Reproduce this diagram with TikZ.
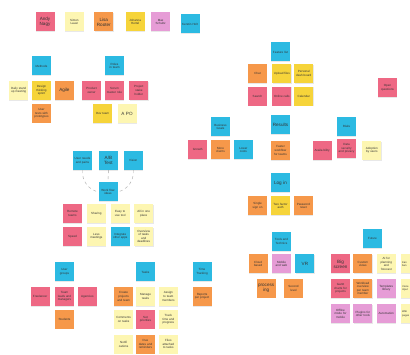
\documentclass[tikz,border=0pt]{standalone}
\usepackage{fontspec}
\setmainfont{Liberation Sans}
\definecolor{stpink}{RGB}{238,104,132}
\definecolor{stlight}{RGB}{253,246,178}
\definecolor{storange}{RGB}{246,152,74}
\definecolor{styellow}{RGB}{246,212,58}
\definecolor{stviolet}{RGB}{230,156,214}
\definecolor{stcyan}{RGB}{44,186,226}
\usetikzlibrary{positioning, shadows}

\begin{document}
\begin{tikzpicture}[x=1pt, y=-1pt,
  note/.style={minimum size=19pt, inner sep=0.5pt, text width=16pt, align=center,
    font=\fontsize{3}{3.6}\selectfont, text=black!80,
    drop shadow={shadow xshift=0.3pt, shadow yshift=-0.7pt, opacity=.18}},
  big/.style={font=\fontsize{4.6}{5.2}\selectfont},
  edge/.style={align=left, font=\fontsize{2.6}{3.2}\selectfont},
  pnk/.style={note, fill=stpink},
  lyl/.style={note, fill=stlight},
  org/.style={note, fill=storange},
  yel/.style={note, fill=styellow},
  vio/.style={note, fill=stviolet},
  cyn/.style={note, fill=stcyan},
  link/.style={dashed, gray!70, thin},
  node distance=3.5pt,
]
  \useasboundingbox[fill=white] (0,0) rectangle (410,355);

  % team row
  \node[pnk, big] (andy) at (45,22) {Andy Nagy};
  \node[lyl, right=10pt of andy] (t2) {Simon Lauer};
  \node[org, big, right=10pt of t2] (lisa) {Lisa Rooter};
  \node[yel, right=12pt of lisa] (t4) {Johanna Hertel};
  \node[vio, right=6pt of t4] (t5) {Max Schultz};
  \node[cyn, right=10pt of t5, yshift=-2pt] (t6) {Kerstin Holt};

  % methods
  \node[cyn] (meth) at (41.5,66) {Methods};
  \node[yel, below=5pt of meth] (meth2) {Design thinking sprint};
  \node[lyl, left=of meth2] (meth1) {Daily stand up meeting};
  \node[org, big, right=of meth2] (agile) {Agile};
  \node[org, below=of meth2] (meth4) {User tests with prototypes};

  % roles
  \node[cyn] (role) at (114.5,66) {Roles in team};
  \node[pnk, below=5pt of role] (role2) {Scrum master role};
  \node[pnk, left=of role2] (role1) {Product owner};
  \node[pnk, right=5pt of role2] (role3) {Project stake holder};
  \node[yel, below=4pt of role1, xshift=11pt] (role4) {Dev team};
  \node[lyl, big, right=5pt of role4] (po) {A PO};

  % features
  \node[cyn] (feat) at (280.5,52) {Feature list};
  \node[org, below=2pt of feat, xshift=-23pt] (f1) {Chat};
  \node[yel, right=5pt of f1] (f2) {Upload files};
  \node[yel, right=2.5pt of f2] (f3) {Personal dash board};
  \node[pnk, below=of f1] (f4) {Search};
  \node[pnk, below=of f2] (f5) {Online calls};
  \node[yel, below=of f3] (f6) {Calendar};
  \node[pnk] (f7) at (387.5,88) {Open questions};

  % goals
  \node[cyn] (goal) at (220.5,127) {Business Goals};
  \node[org, below=3.5pt of goal] (g2) {More clients};
  \node[pnk, left=of g2] (g1) {Growth};
  \node[cyn, right=of g2] (g3) {Lower costs};

  \node[cyn, big] (res) at (280.5,125) {Results};
  \node[org, below=6pt of res] (r1) {Faster workflow for teams};

  \node[cyn] (risk) at (346.5,126.5) {Risks};
  \node[pnk, below=2.5pt of risk] (k2) {Data security and privacy};
  \node[pnk, left=5pt of k2, yshift=-2pt] (k1) {Availa bility};
  \node[lyl, right=6pt of k2, yshift=-2pt] (k3) {Adoption by users};

  \node[cyn, big] (login) at (280.5,183) {Log in};
  \node[yel, below=of login] (l2) {Two factor auth};
  \node[org, left=of l2] (l1) {Single sign on};
  \node[org, right=of l2] (l3) {Password reset};

  % vision
  \node[cyn] (v1) at (82.5,160.5) {User needs and pains};
  \node[cyn, big, right=6.5pt of v1] (v2) {A/B Test};
  \node[cyn, right=5.5pt of v2] (v3) {Vision};
  \node[cyn] (vc) at (108,192) {Work flow ideas};
  \draw[link] (v1.south) to[bend right=40] (vc.west);
  \draw[link] (v3.south) to[bend left=40] (vc.east);
  \draw[link] (v2.south) -- (vc.north);
  \node[pnk] (w1) at (72.5,213.5) {Remote teams};
  \node[lyl, right=4.5pt of w1] (w2) {Sharing};
  \node[lyl, right=4.5pt of w2] (w3) {Easy to use tool};
  \node[lyl, right=4pt of w3] (w4) {All in one place};
  \node[pnk, below=of w1] (w5) {Speed};
  \node[lyl, below=of w2] (w6) {Less meetings};
  \node[cyn, below=of w3] (w7) {Integrate other apps};
  \node[lyl, below=of w4] (w8) {Overview of tasks and deadlines};

  % user groups
  \node[cyn] (user) at (64.5,272) {User groups};
  \node[pnk, below=5pt of user] (u2) {Team leads and managers};
  \node[pnk, left=5pt of u2] (u1) {Freelancer};
  \node[pnk, right=3.5pt of u2] (u3) {Agencies};
  \node[org, below=of u2] (u4) {Students};

  \node[cyn] (tasks) at (145.5,272) {Tasks};
  \node[lyl, below=5pt of tasks] (s2) {Manage tasks};
  \node[org, left=2.5pt of s2] (s1) {Create projects and team};
  \node[lyl, right=3.5pt of s2] (s3) {Assign to team members};
  \node[lyl, below=of s1] (s4) {Comments on tasks};
  \node[pnk, below=of s2] (s5) {Set priorities};
  \node[lyl, below=of s3] (s6) {Track time and progress};
  \node[lyl, below=5.5pt of s4] (s7) {Notifi cations};
  \node[org, below=5.5pt of s5] (s8) {Due dates and reminders};
  \node[lyl, below=5.5pt of s6] (s9) {Files attached to tasks};

  \node[cyn] (track) at (202,272) {Time Tracking};
  \node[org, below=5pt of track] (tr1) {Reports per project};

  % tools
  \node[cyn] (tool) at (281.5,241.5) {Tools and Technics};
  \node[vio, below=3pt of tool] (o2) {Mobile and web};
  \node[org, left=4pt of o2] (o1) {Cloud based};
  \node[cyn, big, right=4pt of o2] (vr) {VR};
  \node[org, big, below=5pt of o1, xshift=8pt] (o4) {process ing};
  \node[org, right=8pt of o4] (o5) {Second level};

  % future
  \node[cyn] (fut) at (372.5,238.5) {Future};
  \node[pnk, big] (p1) at (340.5,264) {Big screen};
  \node[org, right=3pt of p1] (p2) {Custom views};
  \node[lyl, right=4pt of p2] (p3) {AI for planning and forecast};
  \node[lyl, edge, right=4.5pt of p3] (p4) {Kan\\ban};
  \node[pnk, below=5pt of p1] (p5) {Gantt charts for projects};
  \node[org, below=5pt of p2] (p6) {Workload overview per team member};
  \node[vio, below=5pt of p3] (p7) {Templates library};
  \node[lyl, edge, below=5pt of p4] (p8) {Voice\\input};
  \node[vio, below=6pt of p5] (p9) {Offline mode for mobile};
  \node[vio, below=6pt of p6] (p10) {Plugins for other tools};
  \node[vio, below=6pt of p7] (p11) {Automation};
  \node[lyl, edge, below=6pt of p8] (p12) {Wiki\\pages};
\end{tikzpicture}
\end{document}
